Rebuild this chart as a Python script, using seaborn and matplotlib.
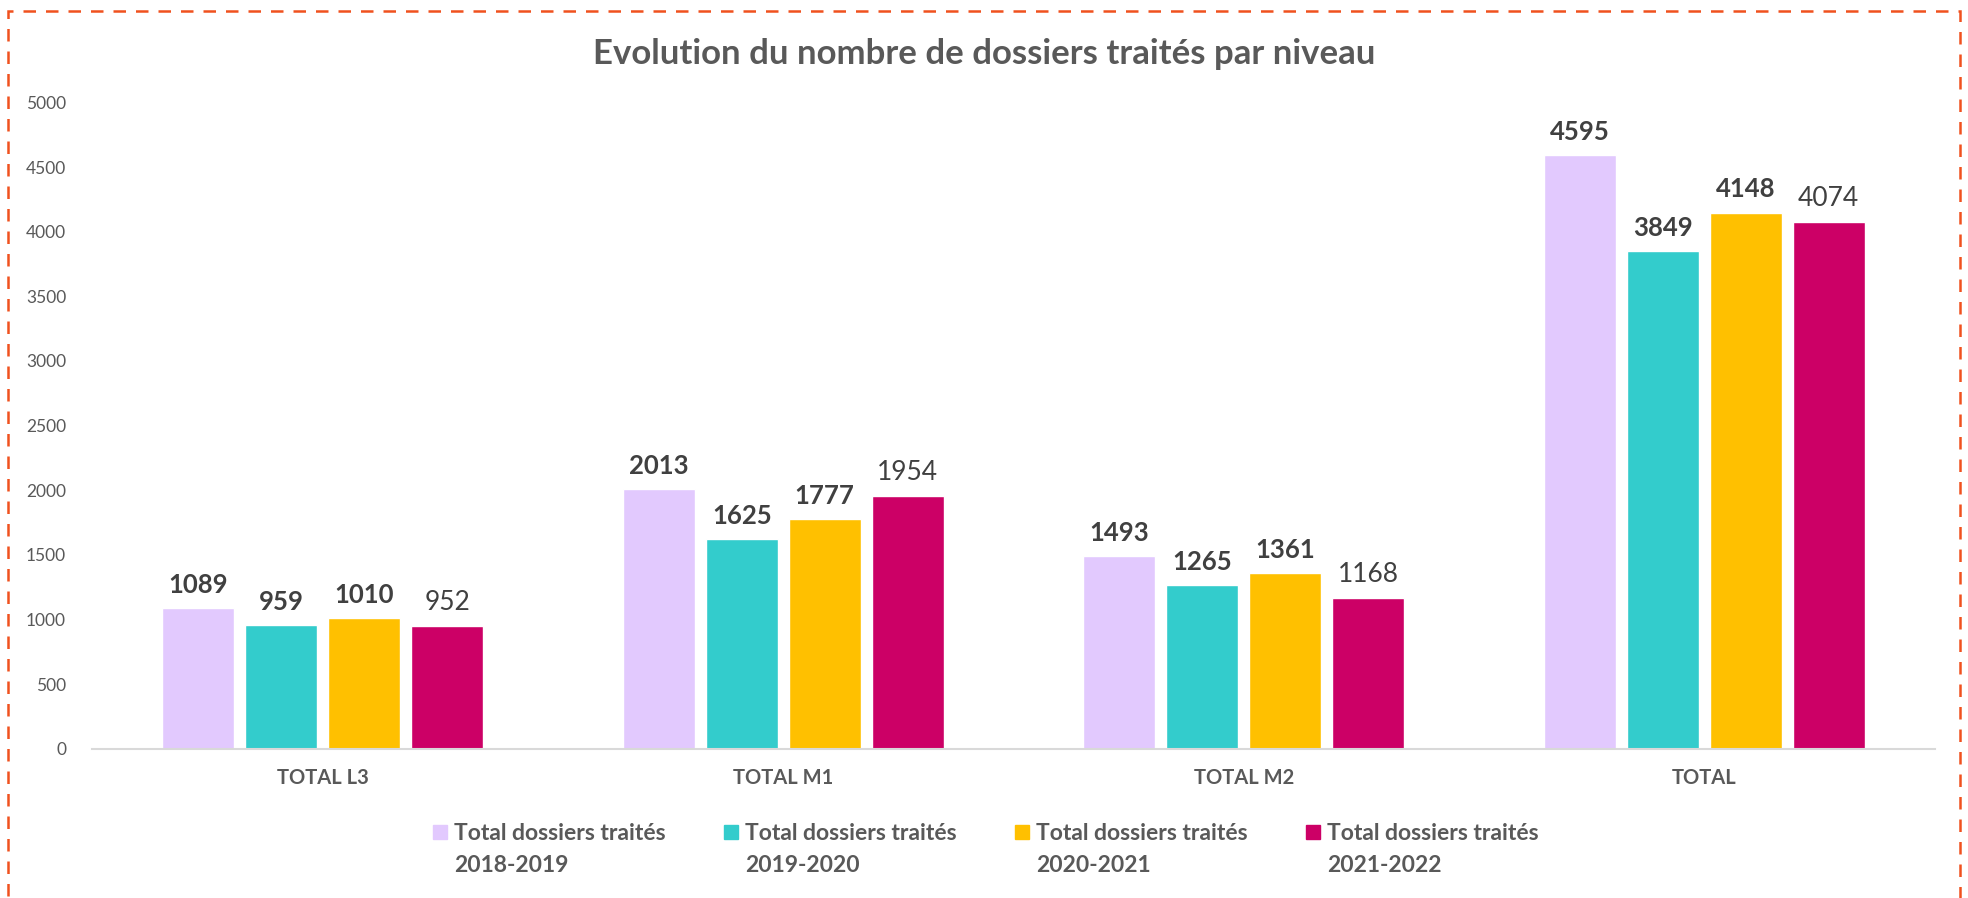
import numpy as np
import pandas as pd
import seaborn as sns
import matplotlib.pyplot as plt
from matplotlib.patches import Rectangle

sns.set_theme(style="white")
plt.rcParams['font.family'] = ['Lato', 'DejaVu Sans']

categories = ["TOTAL L3", "TOTAL M1", "TOTAL M2", "TOTAL"]
years = ["2018-2019", "2019-2020", "2020-2021", "2021-2022"]
series = ["Total dossiers traités " + y for y in years]
v_2018 = [1089, 2013, 1493, 4595]
v_2019 = [959, 1625, 1265, 3849]
v_2020 = [1010, 1777, 1361, 4148]
v_2021 = [952, 1954, 1168, 4074]
colors = ["#E2C9FE", "#33CCCC", "#FFC000", "#CC0066"]

df = pd.DataFrame({
    "niveau": categories * 4,
    "serie": np.repeat(series, 4),
    "valeur": v_2018 + v_2019 + v_2020 + v_2021,
})

W, H = 1968, 898
fig = plt.figure(figsize=(W / 100, H / 100), dpi=100)
ax = fig.add_axes([0.047, 0.166, 0.936, 0.72])

sns.barplot(data=df, x="niveau", y="valeur", hue="serie", palette=colors,
            width=0.72, gap=0.13, saturation=1, ax=ax, legend=False)

# étiquettes de valeur (les 3 premières séries en gras)
for i, cont in enumerate(ax.containers):
    if i < 3:
        ax.bar_label(cont, padding=8, fontsize=18.5, color="#404040", fontweight="bold")
    else:
        ax.bar_label(cont, padding=8, fontsize=19, color="#404040")

ax.set_ylim(0, 5000)
ax.set_yticks(range(0, 5001, 500))
ax.tick_params(axis="y", labelsize=12.5, labelcolor="#595959", length=0, pad=19)
ax.tick_params(axis="x", labelsize=14.5, labelcolor="#595959", length=0, pad=14)
for lab in ax.get_xticklabels():
    lab.set_fontweight("bold")
ax.set_xlabel("")
ax.set_ylabel("")
for s in ["top", "right", "left"]:
    ax.spines[s].set_visible(False)
ax.spines["bottom"].set_color("#D9D9D9")
ax.spines["bottom"].set_linewidth(1.5)
ax.grid(False)

fig.text(0.5, 0.94, "Evolution du nombre de dossiers traités par niveau",
         ha="center", va="center", fontsize=25, fontweight="bold", color="#595959")

# légende (carré aligné sur la première ligne, comme Excel)
for i, (c, y) in enumerate(zip(colors, years)):
    x0 = 433 + 291 * i
    fig.patches.append(Rectangle((x0 / W, 1 - 839 / H), 14 / W, 14 / H,
                                 transform=fig.transFigure, color=c))
    fig.text((x0 + 21) / W, 1 - 833 / H, "Total dossiers traités", ha="left", va="center",
             fontsize=16.5, fontweight="bold", color="#595959")
    fig.text((x0 + 21) / W, 1 - 865 / H, y, ha="left", va="center",
             fontsize=16.5, fontweight="bold", color="#595959")

# bordure pointillée
fig.patches.append(Rectangle((0.004, -0.01), 0.992, 0.998, transform=fig.transFigure,
                             fill=False, edgecolor="#F0511E", linewidth=1.8,
                             linestyle=(0, (5, 4))))

fig.savefig("out.png", dpi=100)
